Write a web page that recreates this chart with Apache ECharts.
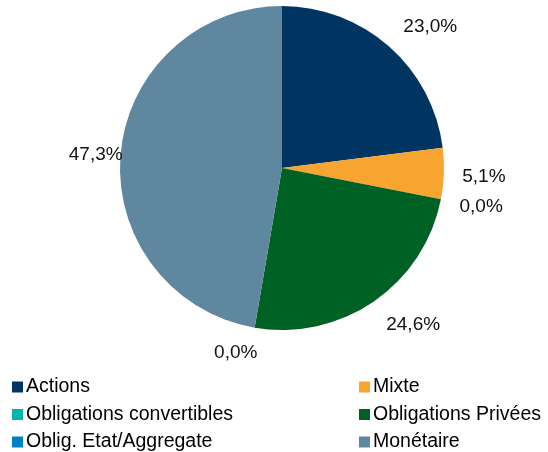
<!DOCTYPE html>
<html>
<head>
<meta charset="utf-8">
<script src="https://cdn.jsdelivr.net/npm/echarts@6/dist/echarts.min.js"></script>
<style>
  html, body { margin: 0; padding: 0; background: #fff; }
  #chart { width: 548px; height: 452px; }
</style>
</head>
<body>
<div id="chart"></div>
<script>
// Répartition par classe d'actifs
const categories = ['Actions', 'Mixte', 'Obligations convertibles', 'Obligations Privées', 'Oblig. Etat/Aggregate', 'Monétaire']
const values = [23.0, 5.1, 0.0, 24.6, 0.0, 47.3]
const colors = ['#003562', '#F7A530', '#00B5AD', '#006125', '#0080C4', '#5F87A0']

const leftLegend = ['Actions', 'Obligations convertibles', 'Oblig. Etat/Aggregate']
const rightLegend = ['Mixte', 'Obligations Privées', 'Monétaire']

// petits décalages des étiquettes (placement type Excel)
const labelNudge = [[14, 11], [-1, 2], [0, -1], [16, -10], [-12, -15], [16, 4]]

const FONT = 'Liberation Sans, Arial, sans-serif'

const chart = echarts.init(document.getElementById('chart'))

const fmt = (v) => v.toFixed(1).replace('.', ',') + '%'

const legendBase = {
  orient: 'vertical',
  top: 377,
  height: 90,
  padding: 0,
  itemWidth: 11,
  itemHeight: 11,
  itemGap: 7.5,
  icon: 'rect',
  selectedMode: false,
  textStyle: {
    fontFamily: FONT,
    fontSize: 19.5,
    lineHeight: 19,
    color: '#000',
    padding: [0, 0, 0, -2]
  }
}

const option = {
  animation: false,
  legend: [
    Object.assign({}, legendBase, { left: 12, data: leftLegend }),
    Object.assign({}, legendBase, { left: 359, data: rightLegend })
  ],
  series: [
    {
      type: 'pie',
      center: [282, 168],
      radius: [0, 162],
      startAngle: 90,
      clockwise: true,
      label: { show: false },
      labelLine: { show: false },
      emphasis: { disabled: true },
      data: categories.map((name, i) => ({
        name: name,
        value: values[i],
        itemStyle: { color: colors[i] }
      }))
    },
    {
      // anneau invisible pour placer les étiquettes
      type: 'pie',
      center: [282, 168],
      radius: [162, 238],
      startAngle: 90,
      clockwise: true,
      silent: true,
      legendHoverLink: false,
      itemStyle: { color: 'rgba(0,0,0,0)' },
      label: {
        show: true,
        position: 'inside',
        rotate: 0,
        formatter: (p) => fmt(p.value),
        fontFamily: FONT,
        fontSize: 19,
        color: '#111'
      },
      labelLine: { show: false },
      emphasis: { disabled: true },
      data: categories.map((name, i) => ({
        name: name,
        value: values[i],
        label: { offset: labelNudge[i] }
      }))
    }
  ]
}

chart.setOption(option)
</script>
</body>
</html>
